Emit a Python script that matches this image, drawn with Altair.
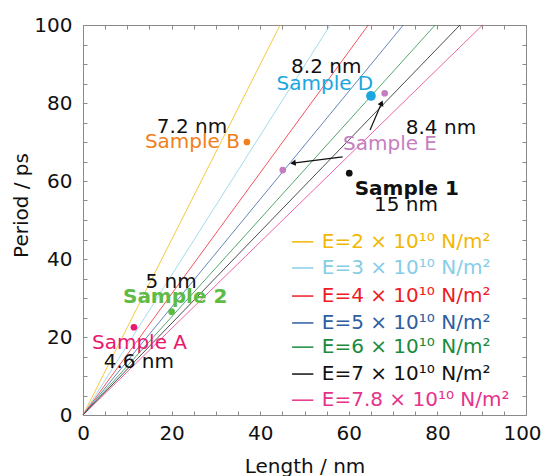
import math
import altair as alt
import pandas as pd

# ---------------- data ----------------
moduli = ["2", "3", "4", "5", "6", "7", "7.8"]
line_colors = ["#F2B705", "#86CDE6", "#EE1C25", "#2E5DA0", "#1A8A3C", "#111111", "#E6338A"]
line_len_at_100ps = [44.5, 55.8, 64.4, 72.3, 79.5, 85.1, 90.2]   # nm where each line reaches 100 ps

sample_names = ["Sample B", "Sample D", "Sample E", "Sample E", "Sample 1", "Sample 2", "Sample A"]
sample_len = [37.0, 65.0, 68.1, 45.1, 60.1, 20.0, 11.5]
sample_period = [70.0, 81.8, 82.5, 62.8, 62.0, 26.5, 22.5]
sample_colors = ["#F07F20", "#1BA6E0", "#C47EC0", "#C47EC0", "#111111", "#5DBB46", "#E8186E"]
sample_sizes = [45, 95, 45, 45, 45, 45, 45]

# labels (text, x, y, colour, weight)
label_text = ["7.2 nm", "Sample B", "8.2 nm", "Sample D", "Sample E", "8.4 nm",
              "Sample 1", "15 nm", "5 nm", "Sample 2", "Sample A", "4.6 nm"]
label_x = [24.6, 24.7, 54.9, 54.6, 69.3, 80.8, 73.1, 72.9, 19.9, 20.8, 12.75, 12.6]
label_y = [73.8, 70.0, 89.2, 84.9, 69.5, 73.6, 57.9, 53.8, 34.0, 30.3, 18.5, 13.6]
label_color = ["#111111", "#F07F20", "#111111", "#1BA6E0", "#C47EC0", "#111111",
               "#111111", "#111111", "#111111", "#5DBB46", "#E8186E", "#111111"]
label_bold = [False, False, False, False, False, False, True, False, False, True, False, False]

# arrows (tail -> head)
arrow_x = [64.8, 58.6]
arrow_y = [73.1, 66.2]
arrow_x2 = [67.4, 47.4]
arrow_y2 = [80.0, 64.6]

# legend placement (data units)
legend_y = [44.4, 37.7, 30.5, 23.6, 17.4, 10.5, 3.8]
legend_line_x = [47.2, 52.0]
legend_text_x = 53.9

W, H = 443, 390
FONT = "DejaVu Sans"

# ---------------- tables ----------------
line_rows = []
for m, c, L in zip(moduli, line_colors, line_len_at_100ps):
    line_rows.append({"E": m, "x": 0.0, "y": 0.0, "c": c})
    line_rows.append({"E": m, "x": L, "y": 100.0, "c": c})
lines_df = pd.DataFrame(line_rows)

samples_df = pd.DataFrame({"name": sample_names, "x": sample_len, "y": sample_period,
                           "c": sample_colors, "s": sample_sizes})

labels_df = pd.DataFrame({"t": label_text, "x": label_x, "y": label_y,
                          "c": label_color, "b": label_bold})

ang = []
for x1, y1, x2, y2 in zip(arrow_x, arrow_y, arrow_x2, arrow_y2):
    dx = (x2 - x1) * W / 100
    dy = (y2 - y1) * H / 100
    a = math.degrees(math.atan2(dx, dy))
    ang.append(a % 360)
arrows_df = pd.DataFrame({"x": arrow_x, "y": arrow_y, "x2": arrow_x2, "y2": arrow_y2, "a": ang})

leg_line_rows = []
leg_text_rows = []
for m, c, yy in zip(moduli, line_colors, legend_y):
    leg_line_rows.append({"E": m, "x": legend_line_x[0], "x2": legend_line_x[1], "y": yy, "c": c})
    leg_text_rows.append({"t": f"E={m} \u00d7 10\u00b9\u2070 N/m\u00b2", "x": legend_text_x, "y": yy, "c": c})
leg_line_df = pd.DataFrame(leg_line_rows)
leg_text_df = pd.DataFrame(leg_text_rows)

dummy_df = pd.DataFrame({"x": [0.0], "y": [0.0]})

# ---------------- scales / axes ----------------
xs = alt.Scale(domain=[0, 100], nice=False, zero=False)
ys = alt.Scale(domain=[0, 100], nice=False, zero=False)
tick_vals = list(range(0, 101, 5))

x_main = alt.Axis(values=[0, 20, 40, 60, 80, 100], title="Length / nm", ticks=False, domain=False,
                  grid=False, labelFontSize=20, labelPadding=8, titleFontSize=20,
                  labelFlush=False, labelOverlap=False,
                  labelOffset={"condition": {"test": "datum.value == 100", "value": -4}, "value": 0},
                  titleY=57, titleBaseline="alphabetic", titleFontWeight="normal",
                  labelColor="#111", titleColor="#111",
                  labelFont=FONT, titleFont=FONT, orient="bottom")
y_main = alt.Axis(values=[0, 20, 40, 60, 80, 100], title="Period / ps", ticks=False, domain=False,
                  grid=False, labelFontSize=20, labelPadding=11, titleFontSize=20,
                  labelFlush=False, labelOverlap=False,
                  titleX=-56, titleY=180, titleBaseline="alphabetic", titleFontWeight="normal",
                  labelColor="#111", titleColor="#111",
                  labelFont=FONT, titleFont=FONT, orient="left")


def tick_axis(orient, offset):
    return alt.Axis(values=tick_vals, labels=False, domain=False, grid=False, ticks=True,
                    tickSize=4, tickColor="#8a8a8a", title=None, orient=orient, offset=offset)


lines = alt.Chart(lines_df).mark_line(strokeWidth=1, opacity=0.75).encode(
    x=alt.X("x:Q", scale=xs, axis=x_main),
    y=alt.Y("y:Q", scale=ys, axis=y_main),
    detail="E:N",
    color=alt.Color("c:N", scale=None),
)

ticks_a = alt.Chart(dummy_df).mark_point(opacity=0).encode(
    x=alt.X("x:Q", scale=xs, axis=tick_axis("top", -H)),
    y=alt.Y("y:Q", scale=ys, axis=tick_axis("right", -W)),
)
ticks_b = alt.Chart(dummy_df).mark_point(opacity=0).encode(
    x=alt.X("x:Q", scale=xs, axis=tick_axis("bottom", -H)),
    y=alt.Y("y:Q", scale=ys, axis=tick_axis("left", -W)),
)

pts = alt.Chart(samples_df).mark_circle(opacity=1).encode(
    x=alt.X("x:Q", scale=xs, axis=None),
    y=alt.Y("y:Q", scale=ys, axis=None),
    color=alt.Color("c:N", scale=None),
    size=alt.Size("s:Q", scale=None),
)

arr_lines = alt.Chart(arrows_df).mark_rule(color="#111", strokeWidth=1.2).encode(
    x=alt.X("x:Q", scale=xs, axis=None), y=alt.Y("y:Q", scale=ys, axis=None),
    x2="x2:Q", y2="y2:Q",
)
arr_heads = alt.Chart(arrows_df).mark_point(shape="triangle-up", filled=True, color="#111",
                                            opacity=1, size=40).encode(
    x=alt.X("x2:Q", scale=xs, axis=None), y=alt.Y("y2:Q", scale=ys, axis=None),
    angle=alt.Angle("a:Q", scale=None),
)

txt_norm = alt.Chart(labels_df[~labels_df["b"]]).mark_text(
    fontSize=20, font=FONT, baseline="middle", align="center").encode(
    x=alt.X("x:Q", scale=xs, axis=None), y=alt.Y("y:Q", scale=ys, axis=None),
    text="t:N", color=alt.Color("c:N", scale=None),
)
txt_bold = alt.Chart(labels_df[labels_df["b"]]).mark_text(
    fontSize=20, font=FONT, baseline="middle", align="center", fontWeight="bold").encode(
    x=alt.X("x:Q", scale=xs, axis=None), y=alt.Y("y:Q", scale=ys, axis=None),
    text="t:N", color=alt.Color("c:N", scale=None),
)

leg_lines = alt.Chart(leg_line_df).mark_rule(strokeWidth=1.5).encode(
    x=alt.X("x:Q", scale=xs, axis=None), x2="x2:Q",
    y=alt.Y("y:Q", scale=ys, axis=None),
    color=alt.Color("c:N", scale=None),
)
leg_text = alt.Chart(leg_text_df).mark_text(
    fontSize=20, font=FONT, baseline="middle", align="left").encode(
    x=alt.X("x:Q", scale=xs, axis=None), y=alt.Y("y:Q", scale=ys, axis=None),
    text="t:N", color=alt.Color("c:N", scale=None),
)

chart = alt.layer(lines, ticks_a, ticks_b, pts, arr_lines, arr_heads, txt_norm, txt_bold,
                  leg_lines, leg_text).resolve_axis(
    x="independent", y="independent"
).properties(
    width=W, height=H,
    autosize=alt.AutoSizeParams(type="none"),
    padding={"left": 75, "top": 17, "right": 15, "bottom": 61},
    background="white",
).configure_view(stroke="#8a8a8a", strokeWidth=1)

chart.save("out.html", embed_options={"renderer": "svg", "actions": False})
